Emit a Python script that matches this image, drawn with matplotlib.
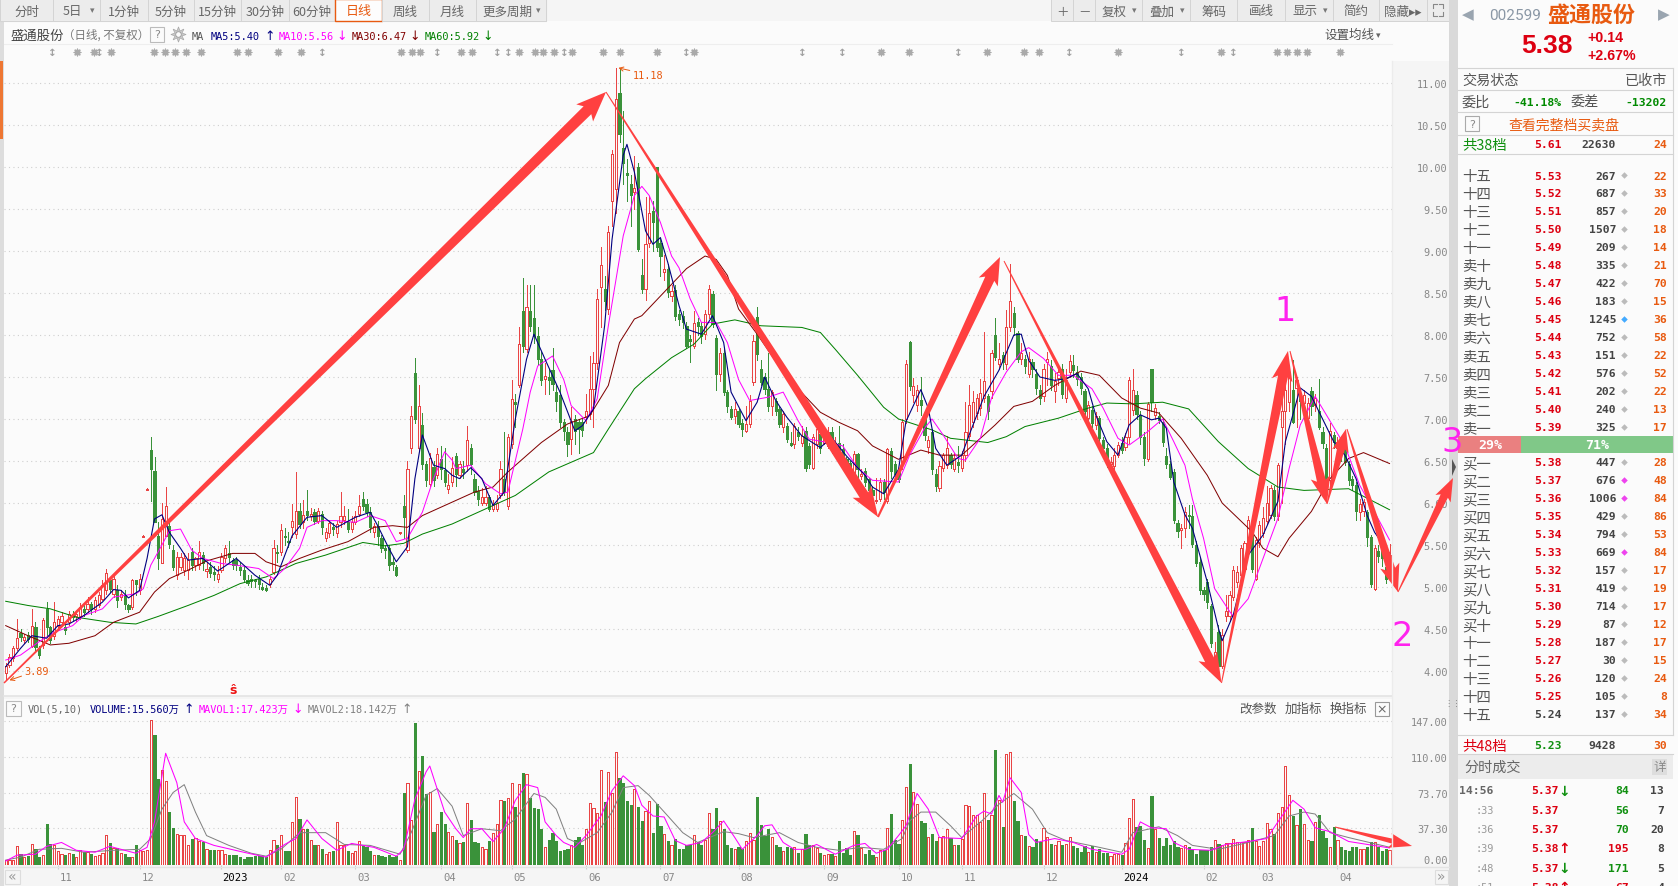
import numpy as np
import matplotlib
matplotlib.use("Agg")
import matplotlib.pyplot as plt
from matplotlib.patches import Polygon, Rectangle

plt.rcParams["font.family"] = ["Noto Sans CJK SC", "DejaVu Sans"]

W, H = 1678, 887

# daily candles
open_px = [
    3.98,4.07,4.15,4.27,4.45,4.37,4.43,4.30,4.52,4.27, 4.31,4.74,4.52,4.42,4.54,4.58,4.52,4.58,4.68,4.65,
    4.66,4.74,4.74,4.80,4.74,4.78,4.86,4.96,5.08,4.92, 4.96,4.88,4.90,4.78,4.76,5.08,4.96,5.60,6.16,6.63,
    6.38,5.61,5.28,5.61,5.73,5.44,5.14,5.24,5.20,5.20, 5.42,5.26,5.26,5.38,5.19,5.24,5.18,5.09,5.20,5.34,
    5.40,5.32,5.32,5.24,5.20,5.08,5.09,5.08,5.10,5.00, 4.99,5.04,5.18,5.42,5.42,5.60,5.55,5.71,5.63,5.90,
    5.77,5.90,5.84,5.89,5.79,5.87,5.58,5.64,5.71,5.64, 5.77,5.80,5.77,5.69,5.77,5.87,6.05,5.99,5.89,5.65,
    5.73,5.58,5.46,5.46,5.30,5.24,5.64,5.97,5.44,6.65, 7.55,6.65,6.93,6.47,6.23,6.43,6.33,6.52,6.39,6.17,
    6.25,6.56,6.33,6.40,6.45,6.66,6.29,6.14,6.00,6.00, 6.07,5.93,5.93,6.09,6.29,5.97,6.70,7.20,7.41,8.29,
    7.83,8.29,8.20,7.99,7.71,7.48,7.50,7.58,7.32,7.28, 6.96,6.85,6.76,7.00,6.96,6.97,7.02,7.06,7.36,7.67,
    8.57,8.55,8.31,9.60,9.74,10.88,10.23,9.93,9.80,9.70, 10.00,8.72,8.55,9.10,9.48,10.00,9.10,8.75,8.79,8.46,
    8.54,8.25,8.23,8.11,7.95,7.87,8.15,8.11,8.01,8.25, 8.49,7.97,7.54,7.79,7.32,7.12,7.03,7.10,6.95,6.86,
    6.94,7.44,8.21,7.60,7.50,7.36,7.16,7.22,7.12,6.90, 6.92,6.71,6.70,6.85,6.72,6.86,6.68,6.42,6.70,6.82,
    6.72,6.68,6.84,6.64,6.72,6.64,6.52,6.48,6.36,6.58, 6.32,6.38,6.28,6.16,6.02,6.05,6.25,6.02,6.62,6.46,
    6.38,6.47,7.00,7.92,7.29,7.17,7.23,7.03,6.67,6.85, 6.35,6.18,6.42,6.45,6.57,6.41,6.49,6.42,6.57,6.80,
    6.97,7.07,7.13,7.25,7.27,7.33,8.00,7.66,7.76,7.66, 8.10,8.26,8.02,7.72,7.72,7.53,7.68,7.54,7.35,7.27,
    7.68,7.63,7.33,7.49,7.60,7.25,7.56,7.64,7.56,7.50, 7.33,7.01,7.11,6.93,7.01,6.75,6.66,6.47,6.44,6.57,
    6.71,6.67,6.79,7.11,7.29,7.05,6.79,6.52,7.60,7.05, 7.03,6.97,6.56,6.46,6.37,5.76,5.68,5.70,5.86,5.84,
    5.50,5.30,4.96,5.06,4.77,4.06,4.47,4.06,4.65,4.65, 4.88,5.06,5.14,5.22,5.52,5.74,5.10,5.52,5.64,5.78,
    5.86,6.15,5.84,6.91,7.10,7.20,7.35,7.37,7.27,7.19, 7.01,7.33,7.17,7.09,6.85,6.66,6.27,6.81,6.65,6.65,
    6.69,6.47,6.29,6.21,5.89,5.91,5.89,5.59,4.98,5.43,5.45,5.24,5.12,
]
close_px = [
    4.06,4.17,4.27,4.39,4.40,4.40,4.38,4.54,4.29,4.19, 4.61,4.52,4.37,4.58,4.62,4.65,4.49,4.68,4.64,4.68,
    4.76,4.70,4.80,4.74,4.84,4.90,5.02,5.17,4.98,5.10, 4.84,4.92,4.80,4.74,5.08,5.04,5.10,5.61,6.17,6.40,
    5.77,5.34,5.81,5.97,5.51,5.24,5.36,5.36,5.34,5.32, 5.26,5.34,5.42,5.28,5.22,5.17,5.15,5.16,5.36,5.46,
    5.36,5.26,5.26,5.20,5.10,5.05,5.07,5.07,5.04,4.98, 4.96,5.10,5.46,5.40,5.68,5.59,5.54,5.78,5.90,5.75,
    5.86,5.86,5.87,5.79,5.90,5.72,5.65,5.76,5.69,5.75, 5.84,5.85,5.69,5.77,5.85,5.96,5.97,5.89,5.71,5.73,
    5.61,5.46,5.44,5.26,5.27,5.14,5.65,5.83,6.41,7.04, 7.00,7.16,6.46,6.27,6.53,6.27,6.58,6.41,6.25,6.21,
    6.42,6.34,6.46,6.37,6.75,6.46,6.13,6.05,6.07,6.07, 5.93,5.99,6.00,6.41,6.13,6.79,7.24,7.18,7.89,7.87,
    8.33,8.11,7.99,7.72,7.46,7.51,7.46,7.42,7.21,6.96, 6.86,6.70,6.98,6.86,6.88,6.87,7.09,7.36,7.67,8.43,
    8.83,8.41,9.23,10.16,10.81,10.39,10.05,9.90,9.67,9.75, 9.02,8.55,9.08,9.45,9.34,9.05,8.94,8.79,8.51,8.52,
    8.23,8.19,8.15,7.87,7.93,8.14,8.11,7.99,8.25,8.55, 8.13,7.54,7.79,7.32,7.16,7.02,7.12,6.94,6.88,6.94,
    7.22,7.93,7.77,7.44,7.36,7.16,7.32,7.10,6.94,7.06, 6.76,6.69,6.92,6.80,6.80,6.42,6.46,6.78,6.88,6.66,
    6.80,6.84,6.68,6.72,6.60,6.52,6.44,6.36,6.58,6.40, 6.34,6.25,6.15,6.09,6.04,6.25,6.13,6.64,6.38,6.35,
    6.28,6.96,7.66,7.39,7.39,7.35,7.17,6.81,6.75,6.40, 6.20,6.44,6.57,6.66,6.47,6.53,6.45,6.57,6.85,7.17,
    7.20,7.25,7.31,7.45,7.09,7.79,7.74,7.72,7.68,8.10, 8.41,8.10,7.72,7.78,7.63,7.72,7.59,7.37,7.25,7.60,
    7.72,7.41,7.45,7.56,7.30,7.46,7.69,7.58,7.48,7.37, 7.10,7.17,6.95,7.03,6.77,6.65,6.49,6.49,6.57,6.69,
    6.63,6.79,7.46,7.35,7.06,6.79,6.53,7.18,7.20,7.13, 6.99,6.73,6.46,6.31,5.80,5.67,5.70,5.89,5.84,5.51,
    5.28,4.96,4.92,4.82,4.33,4.23,4.06,4.43,4.71,4.90, 5.20,5.18,5.47,5.52,5.80,5.22,5.56,5.74,5.82,6.00,
    6.18,5.84,6.45,7.09,7.35,7.50,6.97,7.46,7.21,7.29, 7.19,7.15,7.25,6.91,6.71,6.21,6.86,6.73,6.73,6.59,
    6.49,6.27,6.21,5.91,5.99,6.01,5.60,5.04,5.47,5.37,5.35,5.10,5.38,
]
high_px = [
    4.10,4.20,4.30,4.62,4.50,4.44,4.47,4.74,4.58,4.30, 4.63,4.82,4.54,4.82,4.66,4.70,4.55,4.72,4.72,4.72,
    4.81,4.78,4.88,4.82,4.88,4.94,5.08,5.22,5.12,5.14, 5.02,4.96,4.96,4.80,5.10,5.08,5.16,5.62,6.18,6.79,
    6.55,5.77,6.00,6.19,5.81,5.50,5.42,5.40,5.40,5.40, 5.46,5.36,5.55,5.42,5.30,5.30,5.25,5.25,5.40,5.50,
    5.55,5.35,5.36,5.30,5.24,5.14,5.14,5.10,5.14,5.05, 5.02,5.13,5.56,5.50,5.75,5.70,5.65,5.99,6.37,6.00,
    6.03,6.15,5.94,5.93,5.94,5.90,5.70,5.80,5.76,5.78, 6.13,5.97,5.93,5.85,5.90,6.09,6.13,6.05,5.95,5.76,
    5.78,5.62,5.50,5.50,5.36,5.26,5.66,6.09,6.50,7.15, 7.73,7.40,7.07,6.50,6.60,6.50,6.65,6.68,6.65,6.35,
    6.55,6.60,6.50,6.50,6.92,6.70,6.35,6.20,6.18,6.20, 6.10,6.04,6.10,6.50,6.84,6.82,7.47,7.30,8.10,8.68,
    8.60,8.60,8.60,8.10,7.80,7.67,7.60,7.85,7.40,7.40, 7.00,6.90,7.14,7.05,7.00,7.00,7.30,7.75,7.80,8.55,
    9.05,8.70,9.30,10.20,11.18,11.18,10.67,10.10,9.90,10.13, 10.05,8.90,9.64,9.66,9.60,10.00,9.15,8.95,8.85,8.60,
    8.60,8.30,8.28,8.16,8.00,8.28,8.20,8.16,8.30,8.60, 8.52,8.00,7.85,7.85,7.35,7.15,7.20,7.12,7.00,7.15,
    7.28,8.00,8.33,7.70,7.55,7.78,7.35,7.25,7.15,7.10, 6.95,6.85,6.95,6.90,6.92,6.90,6.72,6.82,6.92,6.85,
    6.85,6.90,6.90,6.78,6.92,6.70,6.55,6.50,6.62,6.60, 6.40,6.42,6.30,6.20,6.30,6.30,6.28,6.66,6.65,6.50,
    6.40,7.00,7.70,7.93,7.49,7.40,7.50,7.05,6.80,6.88, 6.40,6.50,6.60,6.80,6.60,6.60,6.68,6.62,7.20,7.40,
    7.33,7.30,7.48,8.04,7.30,7.82,8.20,7.90,7.80,8.30, 8.85,8.33,8.05,7.90,7.76,7.80,7.72,7.60,7.40,7.65,
    7.80,7.70,7.55,7.60,7.65,7.60,7.76,7.76,7.63,7.55, 7.36,7.22,7.15,7.08,7.04,6.78,6.70,6.55,6.65,6.73,
    6.78,6.83,7.50,7.60,7.33,7.10,6.85,7.20,7.60,7.18, 7.08,7.00,6.65,6.50,6.40,5.80,5.75,5.95,5.98,5.98,
    5.55,5.35,5.00,5.10,4.80,4.35,4.55,4.50,4.90,4.95, 5.25,5.25,5.50,5.55,5.85,5.80,5.60,5.78,5.95,6.20,
    6.22,6.20,6.48,7.30,7.45,7.55,7.70,7.50,7.30,7.35, 7.25,7.38,7.30,7.48,6.90,6.70,6.95,6.85,6.78,6.70,
    6.75,6.50,6.32,6.25,6.05,6.05,5.92,5.62,5.50,5.50,5.50,5.30,5.51,
]
low_px = [
    3.89,4.05,4.12,4.25,4.36,4.33,4.34,4.28,4.25,4.16, 4.27,4.42,4.33,4.38,4.50,4.55,4.44,4.55,4.60,4.60,
    4.62,4.66,4.70,4.68,4.70,4.76,4.84,4.92,4.94,4.88, 4.76,4.84,4.74,4.70,4.74,4.90,4.92,5.59,6.15,6.02,
    5.77,5.22,5.28,5.61,5.46,5.20,5.10,5.20,5.14,5.10, 5.20,5.20,5.22,5.20,5.12,5.12,5.08,5.06,5.18,5.30,
    5.30,5.22,5.20,5.14,5.06,5.02,5.00,5.00,4.98,4.97, 4.95,5.00,5.15,5.30,5.38,5.50,5.48,5.60,5.58,5.70,
    5.70,5.80,5.80,5.75,5.76,5.63,5.55,5.60,5.62,5.60, 5.72,5.75,5.66,5.65,5.75,5.84,5.92,5.85,5.66,5.60,
    5.50,5.42,5.35,5.20,5.20,5.13,5.63,5.58,5.42,6.60, 6.95,6.63,6.40,6.20,6.20,6.20,6.30,6.28,6.20,6.12,
    6.20,6.20,6.30,6.30,6.38,6.35,6.10,5.98,5.98,5.98, 5.90,5.90,5.90,6.06,6.10,5.93,6.65,6.90,7.38,7.80,
    7.80,8.05,7.90,7.65,7.40,7.30,7.30,7.35,7.10,6.90, 6.75,6.56,6.58,6.70,6.60,6.80,6.95,7.00,6.90,7.60,
    8.10,8.30,8.25,9.30,9.45,10.30,9.80,9.60,9.30,9.50, 9.00,8.50,8.42,9.05,9.00,9.00,8.70,8.65,8.45,8.40,
    8.18,8.12,8.08,7.85,7.68,7.85,8.00,7.90,7.95,8.20, 8.10,7.35,7.45,7.28,7.08,7.00,6.95,6.90,6.80,6.84,
    6.90,7.40,7.70,7.40,7.30,7.10,7.05,7.05,6.90,6.85, 6.73,6.68,6.66,6.75,6.68,6.38,6.42,6.40,6.65,6.60,
    6.70,6.65,6.60,6.60,6.55,6.48,6.40,6.30,6.34,6.30, 6.28,6.20,6.10,6.03,6.00,6.02,6.05,6.00,6.30,6.30,
    6.25,6.40,6.95,7.35,7.20,7.10,7.05,6.75,6.60,6.35, 6.14,6.14,6.38,6.42,6.42,6.38,6.37,6.38,6.50,6.75,
    6.90,7.00,7.05,7.20,7.00,7.25,7.70,7.60,7.60,7.60, 8.05,8.00,7.68,7.65,7.55,7.50,7.50,7.30,7.18,7.22,
    7.40,7.35,7.20,7.40,7.25,7.20,7.50,7.50,7.40,7.30, 7.02,6.95,6.90,6.88,6.72,6.60,6.43,6.42,6.40,6.55,
    6.60,6.63,6.72,7.05,7.00,6.70,6.45,6.50,7.10,7.00, 6.95,6.68,6.42,6.28,5.76,5.60,5.47,5.60,5.70,5.48,
    5.25,4.92,4.85,4.75,4.28,4.00,3.98,4.04,4.60,4.60, 4.85,5.00,5.10,5.18,5.50,5.18,5.08,5.48,5.60,5.75,
    5.82,5.80,5.80,6.00,6.70,7.10,6.95,6.90,7.00,7.05, 6.95,7.05,7.10,6.88,6.65,6.15,6.20,6.65,6.60,6.50,
    6.45,6.22,6.15,5.80,5.80,5.85,5.49,5.00,4.96,5.30,5.25,5.05,5.08,
]
# volume in 万 shares
volume = [
    5.4,5.4,5.4,19,11,8,9,21,16,8,10,42,21, 20,14,11,10,12,11,8,15,13,13,11,9,10,
    12,31,22,17,17,12,11,8,8,20,15,14,15, 148,133,88,97,86,54,38,32,31,31,
    20,27,28,25,23,16,15,15,15,15,11,10,10,10,8,6,8, 8,9,9,9,8,
    15,26,20,31,14,14,44,69,47,37, 37,26,20,20,16,11,13,14,44,20, 20,14,12,14,25,19,18,14,10,10,
    9,8,10,8,9,5, 73,84,46,145,96,111,72,74,34,42,54,42,34,30,26,22,23,63,46,23,22,18,16,25,33, 42,
    66,65,68,84,59,83,94,93,68,58, 57,37,18,26,33,25,14,15,16,20, 26,29,20,37,63,58,53,97,64,95,
    73,115,89,84,65,61,78,59,45,55, 65,33,62,40,32,25,20,27,16,16, 20,20,31,23,20,26,53,37,58,45,
    37,20,17,16,18,16,24,33,26,69, 41,30,37,29,20,18,14,18,17,18, 12,16,32,20,20,17,12,10,11,11,
    9,24,12,17,10,35,31,17,11,15, 10,8,15,15,38,52,26,21,
    46,80,103,74,62,45,43,29,32,24, 29,30,37,28,20,20,27,61,60,51, 51,44,73,46,51,117,66,39,113,115,
    65,45,31,30,19,18,27,23,38,29, 21,20,25,20,21,29,19,17,13,19, 13,19,13,16,12,12,9,11,11,10,
    22,48,67,39,40,26,17,70,37,28, 19,28,20,24,18,17,20,18,15,11, 15,15,15,18,26,21,20,22,22,27,
    23,23,23,26,38,25,19,25,43,37, 32,53,59,101,71,50,41,57,42,26, 24,44,51,35,28,18,39,26,18,15,
    14,18,18,16,16,18,23,23,18,14,16,15.56,
]
red_volume_days = [39]

# moving average lines (day index, value)
ma5_i = [0,4,7,11,14,17,21,26,29,31,33,36,38,40,42,44,47,49,53,57,62,67,71,73,77,81,85,89,94,98,100,103,105,108,110,112,115,118,120,
         122,125,128,131,134,137,140,142,145,149,153,155,158,161,163,166,167,169,172,174,176,178,181,183,187,190,193,195,199,202,204,207,210,214,219,222,226,231,233,236,240,
         242,246,248,250,253,257,259,263,267,271,273,275,278,282,285,288,291,293,296,299,302,305,308,310,312,314,317,319,323,326,327,330,334,338,342,344,348,351,354,357,360,363,366,368,372]
ma5_v = [4.05,4.27,4.42,4.39,4.54,4.56,4.66,4.82,4.97,4.96,4.87,4.96,5.34,5.81,5.86,5.65,5.46,5.32,5.34,5.19,5.34,5.14,5.02,5.14,5.61,5.83,5.85,5.71,5.83,5.89,5.73,5.46,5.30,5.48,6.29,6.81,6.45,6.41,6.33,
         6.29,6.42,6.29,5.97,6.13,7.0,7.71,8.01,7.71,7.32,6.86,6.92,7.12,8.11,9.14,10.14,10.27,9.94,9.24,9.08,9.16,8.86,8.35,8.07,8.01,8.23,7.91,7.32,6.98,7.2,7.5,7.22,7.02,6.8,6.66,6.78,6.56,6.33,6.19,6.11,6.4,
         6.97,7.35,7.13,6.65,6.45,6.57,6.81,7.27,7.58,8.0,8.01,7.7,7.5,7.46,7.48,7.54,7.36,7.05,6.73,6.57,6.93,7.05,6.99,7.01,6.89,6.25,5.86,5.70,5.06,4.51,4.36,4.67,5.38,5.62,6.02,6.73,7.37,7.27,7.0,6.73,6.57,6.29,5.85,5.65,5.40]
ma10_i = [0,4,9,13,18,21,26,29,35,37,39,42,44,47,50,53,58,62,68,72,75,79,81,85,89,94,98,102,105,108,112,115,118,120,
          121,125,129,133,135,139,141,143,147,150,152,156,159,162,166,169,171,173,176,179,181,184,187,191,194,197,200,205,209,213,216,221,225,229,233,240,
          243,247,249,252,256,258,262,265,269,273,275,279,283,287,292,295,299,302,307,311,314,317,319,322,325,329,330,334,337,342,345,348,352,355,360,364,368,372]
ma10_v = [4.13,4.19,4.35,4.46,4.54,4.66,4.74,4.88,4.92,4.98,5.26,5.50,5.67,5.69,5.44,5.34,5.28,5.26,5.22,5.10,5.22,5.46,5.71,5.79,5.79,5.77,5.85,5.79,5.54,5.58,5.89,6.29,6.61,6.51,
          6.41,6.45,6.23,6.11,6.13,6.88,7.32,7.63,7.75,7.47,7.16,6.98,7.24,8.11,9.18,9.66,9.77,9.66,9.34,8.94,8.80,8.43,8.15,8.15,7.91,7.47,7.22,7.26,7.32,6.98,6.76,6.72,6.68,6.42,6.27,6.25,
          6.57,6.89,7.0,6.81,6.53,6.51,6.77,7.25,7.56,7.8,7.85,7.72,7.52,7.52,7.36,7.13,6.77,6.69,6.85,7.0,6.73,6.45,6.05,5.58,4.98,4.71,4.65,4.86,5.22,5.82,6.41,6.93,7.27,7.05,6.68,6.21,5.89,5.56]
ma30_i = [0,6,12,17,24,29,36,38,40,44,49,54,61,67,70,74,79,85,92,99,104,108,112,120,126,131,135,144,151,157,162,165,169,171,177,183,188,191,194,197,202,209,213,219,224,229,233,240,
          246,251,257,262,266,271,276,282,289,294,300,305,310,316,323,327,335,338,342,345,351,356,361,365,372]
ma30_v = [4.54,4.42,4.31,4.33,4.42,4.58,4.70,4.82,4.94,5.1,5.2,5.31,5.4,5.4,5.3,5.24,5.34,5.44,5.54,5.71,5.73,5.71,5.85,6.01,6.13,6.19,6.37,6.72,6.94,7.04,7.4,7.91,8.19,8.23,8.51,8.79,8.94,8.9,8.71,8.31,8.01,7.56,7.36,7.08,6.96,6.86,6.68,6.52,
          6.63,6.57,6.57,6.77,6.93,7.15,7.21,7.4,7.57,7.52,7.25,7.13,7.07,6.77,6.33,6.0,5.66,5.46,5.36,5.58,5.9,6.29,6.53,6.6,6.47]
ma60_i = [0,6,12,19,28,35,41,49,56,63,70,78,86,96,102,107,112,120,129,137,146,158,162,169,172,179,185,190,196,203,214,219,223,229,236,240,
          249,254,264,269,274,283,291,296,303,311,318,326,334,342,349,361,372]
ma60_v = [4.83,4.78,4.74,4.64,4.58,4.56,4.65,4.78,4.9,5.04,5.12,5.28,5.38,5.53,5.49,5.52,5.63,5.75,5.93,6.09,6.37,6.6,6.88,7.36,7.48,7.73,7.89,8.13,8.18,8.11,8.09,8.03,7.83,7.52,7.14,7.0,
          6.87,6.77,6.72,6.79,6.91,7.01,7.13,7.19,7.18,7.2,7.12,6.73,6.41,6.19,6.15,6.17,5.92]
mavol1_i = [0,3,8,11,15,19,24,28,35,38,40,43,46,48,51,56,64,70,75,78,81,85,89,93,99,105,107,110,113,114,118,121,123,125,128,131,134,137,140,143,145,
            148,150,153,156,160,163,166,169,171,174,177,180,183,187,190,193,196,198,202,204,206,209,212,215,218,223,228,231,234,237,240,
            242,245,248,251,257,261,263,265,267,268,270,273,275,277,282,287,292,300,302,305,308,312,314,318,324,328,334,339,342,346,349,352,356,361,372]
mavol1_v = [4,10,11,19,23,15,13,19,12,18,44,114,84,44,27,20,13,8,21,27,46,27,15,22,18,9,16,67,95,101,54,37,28,37,37,24,37,66,82,79,44,
            30,23,18,30,50,76,91,81,61,50,49,25,20,23,33,45,28,16,30,40,41,23,16,16,21,11,20,22,12,16,30,
            40,73,57,28,27,50,55,52,71,64,89,74,31,23,27,23,16,11,16,44,38,37,23,16,15,21,24,27,44,66,57,38,34,24,17.42]
mavol2_i = [0,4,9,15,21,29,36,39,42,45,48,51,54,60,66,70,74,79,86,91,98,106,109,113,116,120,123,128,133,137,142,145,
            148,151,154,159,163,166,170,173,178,182,186,193,197,201,208,213,218,224,230,236,241,
            243,246,250,254,257,263,267,271,276,280,285,294,300,303,310,315,319,326,334,341,345,349,352,356,361,372]
mavol2_v = [5,8,16,17,13,15,16,27,57,74,82,54,30,20,12,9,16,33,33,21,20,11,33,71,78,60,30,37,35,47,73,69,
            57,27,22,33,54,79,81,71,50,33,23,34,32,28,33,23,18,15,18,16,27,
            45,54,54,40,28,47,62,73,57,33,25,18,13,33,39,30,20,16,23,30,50,54,52,33,28,18.14]

price_ticks = [4,4.5,5,5.5,6,6.5,7,7.5,8,8.5,9,9.5,10,10.5,11]
vol_ticks = [0,37.3,73.7,110,147]
month_days = [14,36,58,74,94,117,136,156,176,197,220,240,257,279,300,322,337,358]
month_labels = ["11","12","2023","02","03","04","05","06","07","08","09","10","11","12","2024","02","03","04"]

sell_labels = ["十五","十四","十三","十二","十一","卖十","卖九","卖八","卖七","卖六","卖五","卖四","卖三","卖二","卖一"]
sell_price = ["5.53","5.52","5.51","5.50","5.49","5.48","5.47","5.46","5.45","5.44","5.43","5.42","5.41","5.40","5.39"]
sell_qty = [267,687,857,1507,209,335,422,183,1245,752,151,576,202,240,325]
sell_count = [22,33,20,18,14,21,70,15,36,58,22,52,22,13,17]
buy_labels = ["买一","买二","买三","买四","买五","买六","买七","买八","买九","买十","十一","十二","十三","十四","十五"]
buy_price = ["5.38","5.37","5.36","5.35","5.34","5.33","5.32","5.31","5.30","5.29","5.28","5.27","5.26","5.25","5.24"]
buy_qty = [447,676,1006,429,794,669,157,419,714,87,187,30,120,105,137]
buy_count = [28,48,84,86,53,84,17,19,17,12,17,15,24,8,34]
tick_time = ["14:56",":33",":36",":39",":48",":51"]
tick_price = ["5.37","5.37","5.37","5.38","5.37","5.38"]
tick_dir = ["↓","","","↑","↓","↑"]
tick_qty = [84,56,70,195,171,67]
tick_count = [13,7,20,8,5,4]
# signal marks along the top of the chart (screen x)
star_x = [77,94,111,154,165,175,186,201,237,248,278,301,401,412,420,461,472,519,535,543,554,572,603,620,
          657,694,881,909,987,1024,1039,1118,1221,1277,1287,1297,1307,1340]
updown_x = [52,99,322,437,497,508,564,686,802,842,958,1069,1181,1233]

RED, GREEN = "#e94545", "#3a923a"
BG = "#fbfbfb"
n = min(len(open_px), len(close_px), len(high_px), len(low_px), len(volume))
print("lengths", len(open_px), len(close_px), len(high_px), len(low_px), len(volume))
opens = np.array(open_px[:n]); closes = np.array(close_px[:n])
highs = np.array(high_px[:n]); lows = np.array(low_px[:n]); vols = np.array(volume[:n])
days = np.arange(n)
up = closes >= opens

fig = plt.figure(figsize=(W / 100, H / 100), dpi=100, facecolor="#f5f5f5")


def px_axes(x0, y0, x1, y1):
    return fig.add_axes([x0 / W, 1 - y1 / H, (x1 - x0) / W, (y1 - y0) / H])


def day_limits(ax):
    ax.set_xlim((4 - 5.7) / 3.72, (1392 - 5.7) / 3.72)


# price panel
ax = px_axes(4, 62, 1392, 697)
ax.set_facecolor(BG)
day_limits(ax)
ax.set_ylim(11 - (697 - 84) / 84, 11 + (84 - 62) / 84)
ax.set_yticks(price_ticks, [f"{t:.2f}" for t in price_ticks], family="DejaVu Sans Mono", fontsize=7.4, color="#888888")
ax.set_xticks([])
ax.tick_params(axis="y", left=False, right=False, labelleft=False, labelright=True, pad=36.5)
for lab in ax.get_yticklabels():
    lab.set_ha("right")
ax.grid(axis="y", color="#cfcfcf", linestyle=(0, (1, 3)), linewidth=0.8)
ax.set_axisbelow(True)
for s in ax.spines.values():
    s.set_visible(False)

wick_cols = [RED if u else GREEN for u in up]
ax.vlines(days, lows, highs, colors=wick_cols, linewidth=0.72, zorder=2, antialiased=False)
ax.bar(days, np.maximum(np.abs(closes - opens), 0.012), bottom=np.minimum(opens, closes), width=0.6,
       facecolor=[BG if u else GREEN for u in up], edgecolor=wick_cols, linewidth=0.72, zorder=3, antialiased=False)
ax.plot(ma60_i, ma60_v, color="#008000", lw=0.72, zorder=4)
ax.plot(ma30_i, ma30_v, color="#800000", lw=0.72, zorder=4)
ax.plot(ma10_i, ma10_v, color="#ff00ff", lw=0.72, zorder=4)
ax.plot(ma5_i, ma5_v, color="#000080", lw=0.8, zorder=4)
ax.annotate("11.18", xy=(164.7, 11.18), xytext=(168.5, 11.10), fontsize=7.4, color="#e85a10", family="DejaVu Sans Mono",
            va="center", arrowprops=dict(arrowstyle="->", color="#e85a10", lw=0.7, shrinkA=0, shrinkB=0))
ax.annotate("3.89", xy=(1, 3.89), xytext=(5, 4.0), fontsize=7.4, color="#e85a10", family="DejaVu Sans Mono",
            va="center", arrowprops=dict(arrowstyle="->", color="#e85a10", lw=0.7, shrinkA=0, shrinkB=0))

# volume panel
av = px_axes(4, 700, 1392, 866)
av.set_facecolor(BG)
day_limits(av)
av.set_ylim(0, (866 - 700) / 0.98)
av.set_yticks(vol_ticks, [f"{t:.2f}" for t in vol_ticks], family="DejaVu Sans Mono", fontsize=7.4, color="#888888")
av.tick_params(axis="y", left=False, right=False, labelleft=False, labelright=True, pad=36.5)
for lab in av.get_yticklabels():
    lab.set_ha("right")
av.get_yticklabels()[0].set_va("bottom")
av.grid(axis="y", color="#cfcfcf", linestyle=(0, (1, 3)), linewidth=0.8)
av.set_axisbelow(True)
for s in av.spines.values():
    s.set_visible(False)
av.set_xticks(month_days, [""] * len(month_days))
av.tick_params(axis="x", length=3, color="#cccccc", direction="out")
for d, lab in zip(month_days, month_labels):
    av.annotate(lab, xy=(d, 0), xytext=(6 if len(lab) == 2 else 10, -9), textcoords="offset points", ha="center", va="center",
                fontsize=7.6, family="DejaVu Sans Mono", color="#000000" if len(lab) == 4 else "#888888", annotation_clip=False)
vol_up = up.copy()
vol_up[red_volume_days] = True
av.bar(days, vols, width=0.6, facecolor=[BG if u else GREEN for u in vol_up],
       edgecolor=[RED if u else GREEN for u in vol_up], linewidth=0.72, zorder=3, antialiased=False)
av.plot(mavol2_i, mavol2_v, color="#808080", lw=0.72, zorder=4)
av.plot(mavol1_i, mavol1_v, color="#ff00ff", lw=0.75, zorder=4)

# screen furniture on a pixel overlay
ui = fig.add_axes([0, 0, 1, 1], zorder=5)
ui.set_xlim(0, W)
ui.set_ylim(H, 0)
ui.axis("off")
ui.patch.set_alpha(0)


def rect(x0, y0, x1, y1, fc="none", ec="none", lw=0.8, **kw):
    ui.add_patch(Rectangle((x0, y0), x1 - x0, y1 - y0, facecolor=fc, edgecolor=ec, linewidth=lw, **kw))


def txt(x, y, s, size=9.2, color="#555555", ha="left", weight="normal", family=None, **kw):
    fam = family if family else ["Noto Sans CJK SC", "DejaVu Sans"]
    ui.text(x, y + 1.5, s, fontsize=size, color=color, ha=ha, va="center", fontweight=weight, family=fam, **kw)


def mono(x, y, s, size=7.4, color="#555555", ha="left", weight="normal"):
    txt(x, y, s, size, color, ha, weight, family=["DejaVu Sans Mono", "Noto Sans CJK SC"])


def arrow(x0, y0, x1, y1, w0, w1, head_w, head_l):
    d = np.array([x1 - x0, y1 - y0], float)
    L = np.hypot(*d)
    d /= L
    nrm = np.array([-d[1], d[0]])
    a, b = np.array([x0, y0], float), np.array([x1, y1], float)
    neck = b - d * head_l
    shoulder = b - d * head_l * 1.15
    pts = [a + nrm * w0 / 2, neck + nrm * w1 / 2, shoulder + nrm * head_w / 2, b,
           shoulder - nrm * head_w / 2, neck - nrm * w1 / 2, a - nrm * w0 / 2]
    ui.add_patch(Polygon(pts, closed=True, facecolor="#ff4040", edgecolor="none"))


# left strip
rect(0, 22, 4, 887, fc="#dddddd")
rect(0, 62, 3, 140, fc="#ee7733")
# header rows
rect(4, 22, 1449, 62, fc=BG)
ui.plot([4, 1392], [45, 45], color="#eeeeee", lw=0.8)
ui.plot([4, 1392], [697, 697], color="#e4e4e4", lw=1.2)
ui.plot([1392, 1392], [62, 866], color="#ececec", lw=1)
ui.plot([4, 1449], [868, 868], color="#e4e4e4", lw=1)

# toolbar left
rect(0, 0, 546, 22, fc="#ececec", ec="#d8d8d8")
tabs = [(0, 53, "分时"), (53, 100, "5日"), (100, 148, "1分钟"), (148, 194, "5分钟"), (194, 241, "15分钟"),
        (241, 289, "30分钟"), (289, 335, "60分钟"), (335, 382, "日线"), (382, 429, "周线"), (429, 476, "月线"), (476, 546, "更多周期")]
for x0, x1, s in tabs:
    if s == "日线":
        rect(x0, 0, x1, 22, fc="#fdfdfd", ec="#e85a10", lw=1)
        txt((x0 + x1) / 2, 10.5, s, 9.4, "#e85a10", "center")
    else:
        rect(x0, 0, x1, 22, fc="#ececec", ec="#d4d4d4", lw=0.7)
        off = -4 if s in ("5日", "更多周期") else 0
        txt((x0 + x1) / 2 + off, 10.5, s, 9, "#666666", "center")
txt(92, 9.5, "▾", 6.5, "#777777", "center")
txt(538, 9.5, "▾", 6.5, "#777777", "center")

# toolbar right
btns = [(1051, 1073, "＋"), (1073, 1095, "－"), (1095, 1142, "复权"), (1142, 1190, "叠加"), (1190, 1237, "筹码"),
        (1237, 1285, "画线"), (1285, 1333, "显示"), (1333, 1379, "简约"), (1379, 1427, "隐藏▸▸"), (1427, 1449, "")]
for x0, x1, s in btns:
    rect(x0, 0, x1, 22, fc="#ececec", ec="#d4d4d4", lw=0.7)
    off = -4 if s in ("复权", "叠加", "显示") else 0
    txt((x0 + x1) / 2 + off, 10.5, s, 9, "#666666", "center")
for x in (1134, 1182, 1325):
    txt(x, 9.5, "▾", 6.5, "#777777", "center")
# fullscreen icon
for cx, cy, sx, sy in [(1433, 5, 1, 1), (1443, 5, -1, 1), (1433, 17, 1, -1), (1443, 17, -1, -1)]:
    ui.plot([cx + 4 * sx, cx, cx], [cy, cy, cy + 4 * sy], color="#888888", lw=0.8)

# chart header
txt(10, 34, "盛通股份", 9.6, "#444444")
txt(63, 34, "（日线, 不复权）", 8.3, "#777777")
rect(150, 28, 164, 43, ec="#bbbbbb", lw=0.8)
txt(157, 34, "?", 8, "#888888", "center", family=["DejaVu Sans"])
ui.plot([178], [35], marker=(8, 1, 0), ms=11, mfc="#c9c9c9", mec="#a8a8a8", mew=0.5)
ui.plot([178], [35], marker="o", ms=4, mfc=BG, mec="#999999", mew=0.6)
mono(192, 35, "MA", color="#555555")
mono(211, 35, "MA5:5.40", color="#000080")
mono(279, 35, "MA10:5.56", color="#ff00ff")
mono(352, 35, "MA30:6.47", color="#800000")
mono(425, 35, "MA60:5.92", color="#008000")
txt(270, 35, "↑", 9, "#000080", "center", family=["DejaVu Sans"])
txt(342, 35, "↓", 9, "#ff00ff", "center", family=["DejaVu Sans"])
txt(415, 35, "↓", 9, "#800000", "center", family=["DejaVu Sans"])
txt(488, 35, "↓", 9, "#008000", "center", family=["DejaVu Sans"])
txt(1324, 34, "设置均线", 9, "#555555")
txt(1378, 34, "▾", 6.5, "#666666", "center")

ui.scatter(star_x, [53] * len(star_x), marker=(8, 2, 0), s=22, color="#aaaaaa", linewidths=1.0)
for x in updown_x:
    txt(x, 51.5, "↕", 7.5, "#a0a0a0", "center", "bold", family=["DejaVu Sans"])

# volume header
rect(6, 702, 21, 717, ec="#bbbbbb", lw=0.8)
txt(13.5, 708, "?", 8, "#888888", "center", family=["DejaVu Sans"])
mono(28, 708, "VOL(5,10)", color="#666666")
mono(90, 708, "VOLUME:15.560万", color="#000080")
mono(199, 708, "MAVOL1:17.423万", color="#ff00ff")
mono(308, 708, "MAVOL2:18.142万", color="#808080")
txt(189, 708, "↑", 9, "#000080", "center", family=["DejaVu Sans"])
txt(298, 708, "↓", 9, "#ff00ff", "center", family=["DejaVu Sans"])
txt(407, 708, "↑", 9, "#808080", "center", family=["DejaVu Sans"])
txt(1239, 708, "改参数", 9, "#555555")
txt(1285, 708, "加指标", 9, "#555555")
txt(1330, 708, "换指标", 9, "#555555")
rect(1375, 703, 1389, 717, ec="#999999", lw=0.8)
txt(1382, 708.5, "×", 9, "#666666", "center", family=["DejaVu Sans"])
txt(233, 689, "ŝ", 9, "#ee1111", "center", "bold", family=["DejaVu Sans"])
rect(5, 871, 20, 885, ec="#dddddd", lw=0.8)
txt(12.5, 875.5, "«", 10, "#999999", "center", family=["DejaVu Sans"])
rect(1435, 871, 1448, 885, ec="#dddddd", lw=0.8)
txt(1441.5, 875.5, "»", 10, "#999999", "center", family=["DejaVu Sans"])

# scroll gutter
rect(1449, 0, 1458, 887, fc="#d9d9d9")
ui.add_patch(Polygon([(1452, 460), (1456, 468), (1452, 477)], closed=True, facecolor="#555555"))
txt(1453, 702, "⋮⋮", 6, "#888888", "center", family=["DejaVu Sans"])

# quote panel
rect(1458, 0, 1678, 887, fc="#fbfbfb")
txt(1468, 13.5, "◀", 11, "#9aa5b0", "center", family=["DejaVu Sans"])
txt(1664, 13.5, "▶", 11, "#9aa5b0", "center", family=["DejaVu Sans"])
txt(1489, 14, "002599", 11, "#8a97a5", family=["Roboto"])
txt(1547, 13.5, "盛通股份", 15.8, "#e85a10", weight="bold")
txt(1521, 44.5, "5.38", 19, "#dd0011", weight="bold", family=["Liberation Sans"])
txt(1587, 37, "+0.14", 10.2, "#dd0011", weight="bold", family=["Liberation Sans"])
txt(1587, 54, "+2.67%", 10.2, "#dd0011", weight="bold", family=["Liberation Sans"])
for y in (69, 91, 113, 136, 155, 736, 755):
    ui.plot([1458, 1673], [y, y], color="#d4d4d4", lw=0.8)
ui.plot([1673, 1673], [69, 736], color="#d4d4d4", lw=0.8)
txt(1462, 79, "交易状态", 10.2, "#555555")
txt(1667, 79, "已收市", 10.2, "#555555", "right")
txt(1462, 101, "委比", 10.2, "#555555")
mono(1513, 101, "-41.18%", 8.2, "#008a00", weight="bold")
txt(1571, 101, "委差", 10.2, "#555555")
mono(1667, 101, "-13202", 8.2, "#008a00", "right", "bold")
rect(1465, 117, 1479, 132, ec="#aaaaaa", lw=0.8)
txt(1472, 123.5, "?", 8, "#888888", "center", family=["DejaVu Sans"])
txt(1508, 123.5, "查看完整档买卖盘", 10, "#e85a10")


def book_row(y, label, price, qty, count, dot, pcolor="#dd0011", lcolor="#555555"):
    txt(1462, y - 0.5, label, 10.4, lcolor)
    mono(1534, y - 1, price, 8.2, pcolor, weight="bold")
    mono(1616, y - 1, str(qty), 8.2, "#444444", "right", "bold")
    if dot:
        ui.scatter([1624], [y], marker="D", s=11, color=dot, linewidths=0)
    mono(1667, y - 1, str(count), 8.2, "#e85a10", "right", "bold")


book_row(145, "共38档", "5.61", 22630, 24, None, lcolor="#109010")
for k in range(15):
    dot = "#44aaff" if sell_qty[k] == 1245 else "#bbbbbb"
    book_row(176 + 18 * k, sell_labels[k], sell_price[k], sell_qty[k], sell_count[k], dot)
for k in range(15):
    dot = "#ee44ee" if buy_qty[k] in (676, 1006, 669) else "#bbbbbb"
    pc = "#444444" if buy_price[k] == "5.24" else "#dd0011"
    book_row(463 + 18 * k, buy_labels[k], buy_price[k], buy_qty[k], buy_count[k], dot, pc)
book_row(746, "共48档", "5.23", 9428, 30, None, "#109010", "#dd0011")

rect(1458, 437, 1521, 454, fc="#ea8080")
rect(1521, 437, 1673, 454, fc="#80c888")
txt(1490, 444, "29%", 9.5, "white", "center", "bold", family=["DejaVu Sans Mono"])
txt(1597, 444, "71%", 9.5, "white", "center", "bold", family=["DejaVu Sans Mono"])

rect(1458, 755, 1673, 780, fc="#ececec")
txt(1464, 766.5, "分时成交", 10.2, "#666666")
rect(1652, 760, 1667, 776, fc="#dddddd")
txt(1659.5, 766.5, "详", 9, "#888888", "center")
for k in range(6):
    y = 790 + 19.3 * k
    if k == 0:
        mono(1459, y, tick_time[k], 8.2, "#666666", weight="bold")
    else:
        mono(1494, y, tick_time[k], 7.4, "#999999", "right")
    mono(1531, y, tick_price[k], 8.2, "#dd0011", weight="bold")
    if tick_dir[k]:
        dc = "#dd0011" if tick_dir[k] == "↑" else "#109010"
        txt(1564, y, tick_dir[k], 10, dc, "center", "bold", family=["DejaVu Sans"])
    qc = "#dd0011" if tick_dir[k] == "↑" else "#109010"
    mono(1629, y, str(tick_qty[k]), 8.2, qc, "right", "bold")
    mono(1664, y, str(tick_count[k]), 8.2, "#444444", "right", "bold")

# hand drawn arrows and numbers
arrow(4, 684, 606, 93, 1.5, 11, 24, 26)
arrow(606, 93, 878, 518, 1, 10, 22, 26)
arrow(878, 518, 1000, 258, 2, 10, 21, 24)
arrow(1004, 262, 1221.5, 684, 1, 10, 21, 26)
arrow(1221.5, 684, 1288, 352, 1, 10, 21, 26)
arrow(1290, 352, 1327, 505, 1, 9, 20, 24)
arrow(1327, 505, 1346, 430, 1, 8, 17, 20)
arrow(1347, 430, 1398, 593, 1, 9, 20, 24)
arrow(1398, 593, 1453, 479, 1, 8, 17, 20)
arrow(1335, 828, 1412, 847, 1, 5, 15, 20)
txt(1285, 310, "1", 24, "#ff22ee", "center", family=["DejaVu Sans"])
txt(1402, 635, "2", 24, "#ff22ee", "center", family=["DejaVu Sans"])
txt(1452, 441, "3", 24, "#ff22ee", "center", family=["DejaVu Sans"])

fig.savefig("out.png", dpi=100, facecolor=fig.get_facecolor())
